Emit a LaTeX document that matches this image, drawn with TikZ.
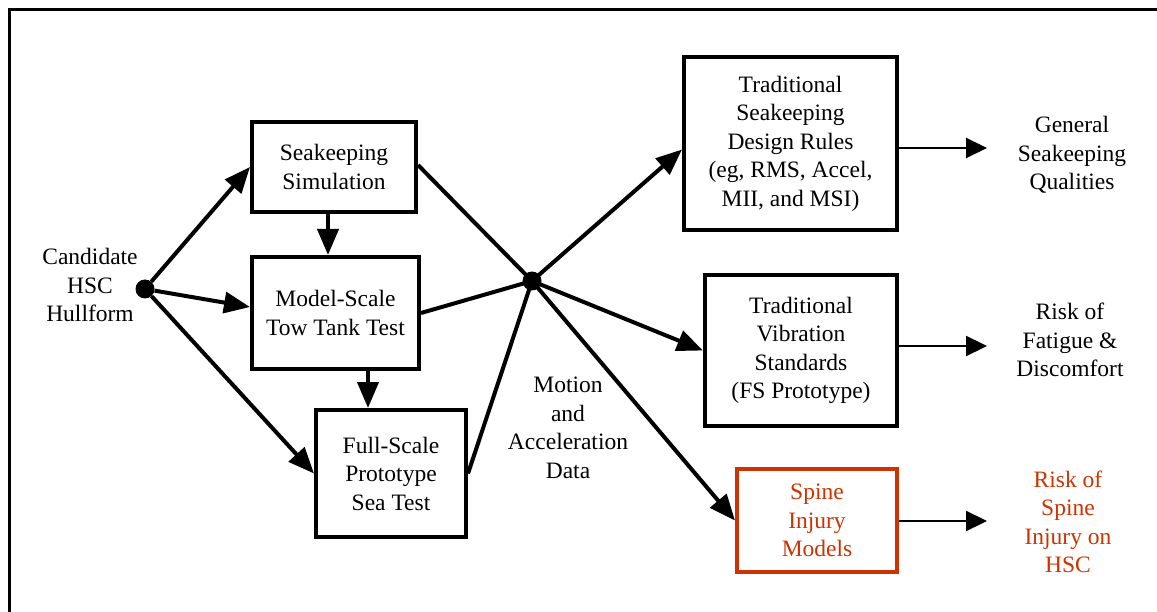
\documentclass[tikz,border=0pt]{standalone}
\usepackage{fontspec}
\setmainfont{Liberation Serif}
\usetikzlibrary{arrows.meta,calc}
\definecolor{spinered}{RGB}{204,51,0}
\begin{document}
\begin{tikzpicture}[x=1pt,y=1pt,
  box/.style={draw,line width=4pt,rectangle,align=center,inner sep=0pt,font=\fontsize{23.5}{28.5}\selectfont},
  lbl/.style={align=center,inner sep=0pt,font=\fontsize{23.5}{28.5}\selectfont},
  conn/.style={line width=4pt},
  arr/.style={line width=4pt,-{Triangle[length=26pt,width=21pt]}},
  outarr/.style={line width=2.2pt,-{Triangle[length=21pt,width=20pt]}},
  hubdot/.style={circle,fill=black,minimum size=19pt,inner sep=0pt}]
\useasboundingbox (0,0) rectangle (1157,-612);
% frame
\draw[line width=3pt] (9,-612) -- (9,-10) -- (1157,-10);
% boxes
\node[box,minimum width=164pt,minimum height=90pt] (seak) at (334,-167) {Seakeeping\\Simulation};
\node[box,minimum width=167pt,minimum height=112pt] (model) at (335.5,-313) {Model-Scale\\Tow Tank Test};
\node[box,minimum width=150pt,minimum height=127pt] (full) at (391,-473.5) {Full-Scale\\Prototype\\Sea Test};
\node[box,minimum width=213pt,minimum height=173pt] (trad) at (790.5,-143.5) {Traditional\\Seakeeping\\Design Rules\\(eg, RMS, Accel,\\MII, and MSI)};
\node[box,minimum width=192pt,minimum height=151pt] (vib) at (801,-350.5) {Traditional\\Vibration\\Standards\\(FS Prototype)};
\node[box,draw=spinered,text=spinered,minimum width=160pt,minimum height=103pt] (spine) at (817,-520.5) {Spine\\Injury\\Models};
% dots
\node[hubdot] (cand) at (145,-289) {};
\node[hubdot] (hub) at (532,-281) {};
% labels
\node[lbl] (candtxt) at (90,-285) {Candidate\\HSC\\Hullform};
\node[lbl] (motion) at (568,-428) {Motion\\and\\Acceleration\\Data};
\node[lbl] (gen) at (1072,-155) {General\\Seakeeping\\Qualities};
\node[lbl] (fat) at (1070,-340) {Risk of\\Fatigue \&\\Discomfort};
\node[lbl,text=spinered] (risk) at (1068,-522) {Risk of\\Spine\\Injury on\\HSC};
\coordinate (genin) at (987,-148);
\coordinate (fatin) at (987,-346);
\coordinate (riskin) at (987,-521);
% candidate arrows
\draw[arr] (cand) -- (seak.west);
\draw[arr] (cand) -- ([yshift=6pt]model.west);
\draw[arr] (cand) -- (full.west);
% vertical arrows
\draw[arr] ([xshift=-6pt]seak.south) -- ([xshift=-6pt]seak.south |- model.north);
\draw[arr] ([xshift=32.5pt]model.south) -- ([xshift=32.5pt]model.south |- full.north);
% into hub
\draw[conn] ([yshift=2pt]seak.east) -- (hub.center);
\draw[conn] (model.east) -- (hub.center);
\draw[conn] (full.east) -- (hub.center);
% out of hub
\draw[arr] (hub.center) -- ([yshift=-6pt]trad.west);
\draw[arr] (hub.center) -- (vib.west);
\draw[arr] (hub.center) -- (spine.west);
% outputs
\draw[outarr] (trad.east |- genin) -- (genin);
\draw[outarr] (vib.east |- fatin) -- (fatin);
\draw[outarr] (spine.east |- riskin) -- (riskin);
\end{tikzpicture}
\end{document}
